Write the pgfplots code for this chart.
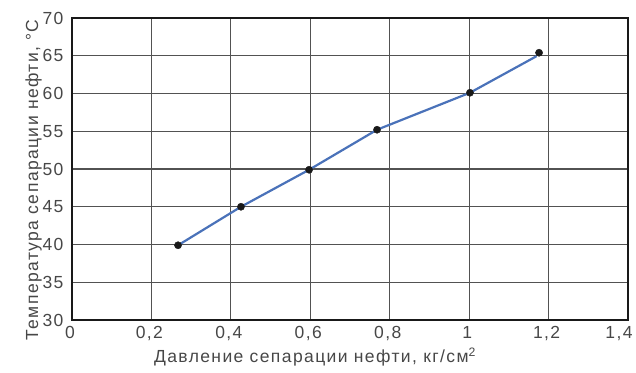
\documentclass[border=0pt]{standalone}
\usepackage{fontspec}
\setmainfont{Liberation Sans}
\newfontfamily\lab[LetterSpace=8]{Liberation Sans}
\usepackage{pgfplots}
\pgfplotsset{compat=1.18}
\begin{document}
\begin{tikzpicture}
\begin{axis}[
  scale only axis, width=556pt, height=302pt,
  xmin=0, xmax=1.4, ymin=30, ymax=70,
  xtick={0,0.2,0.4,0.6,0.8,1,1.2,1.4},
  xticklabels={0,{0,2},{0,4},{0,6},{0,8},1,{1,2},{1,4\rule{14pt}{0pt}}},
  ytick={30,35,40,45,50,55,60,65,70},
  yticklabels={30,35,40,45,50,55,60,65,70},
  major tick length=0pt,
  grid=major,
  grid style={draw=black!68, line width=1.2pt},
  axis line style={draw=black!90, line width=1.3pt},
  tick label style={font=\lab\fontsize{17.5}{20}\selectfont, text=black!72},
  xticklabel style={yshift=-3pt, xshift=-2pt},
  yticklabel style={xshift=-5pt},
  xlabel={Давление сепарации нефти, кг/см\textsuperscript{2}},
  ylabel={Температура сепарации нефти, °С},
  label style={font=\lab\fontsize{17.5}{20}\selectfont, text=black!72},
  xlabel style={at={(axis description cs:0.437,0)}, anchor=north, yshift=-24pt},
  ylabel style={yshift=-6pt, xshift=-11pt},
]
\coordinate (o) at (rel axis cs:0,0);
\addplot[color={rgb,255:red,74;green,114;blue,185}, line width=2.2pt, no marks]
  coordinates {(0.267,39.9) (0.4255,45.0) (0.597,49.9) (0.768,55.2) (1.002,60.1) (1.17,64.95)};
\addplot[only marks, mark=*, mark size=3.6pt, color=black!90]
  coordinates {(0.267,39.9) (0.4255,45.0) (0.597,49.9) (0.768,55.2) (1.002,60.1) (1.176,65.4)};
\end{axis}
\pgfresetboundingbox
\path (o) ++(-72pt,-52pt) rectangle ++(636pt,372pt);
\end{tikzpicture}
\end{document}
